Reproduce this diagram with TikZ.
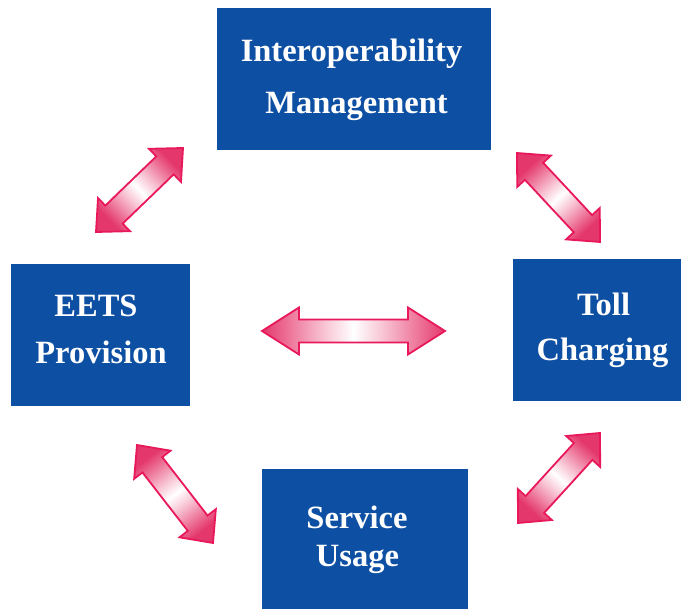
\documentclass[tikz,border=0pt]{standalone}
\usepackage{fontspec}
\setmainfont{Liberation Serif}
\usetikzlibrary{calc}

\definecolor{boxblue}{RGB}{13,79,162}
\definecolor{arrowedge}{RGB}{232,24,90}
\definecolor{arrowpink}{RGB}{228,56,108}
\definecolor{arrowmid}{RGB}{238,122,158}
\definecolor{arrowlight}{RGB}{248,196,212}

% pink at both ends, white in the middle
\pgfdeclarehorizontalshading{arrowshade}{100bp}{%
  color(0bp)=(arrowpink); color(25bp)=(arrowpink); color(33bp)=(arrowmid);
  color(42bp)=(arrowlight); color(50bp)=(white); color(58bp)=(arrowlight);
  color(67bp)=(arrowmid); color(75bp)=(arrowpink); color(100bp)=(arrowpink)}

\tikzset{
  box/.style={fill=boxblue, draw=none, inner sep=0pt},
  boxtext/.style={text=white, anchor=base, inner sep=0pt,
    font=\fontsize{32.5}{36}\selectfont\bfseries},
  arrowbody/.style={shade, shading=arrowshade, draw=arrowedge,
    line width=1.8pt, line join=miter},
}

% double-headed block arrow between two named coordinates
% #1 start, #2 end, #3 head length, #4 head half width, #5 shaft half width
\newcommand\dblblockarrow[5]{%
  \pgfmathanglebetweenpoints{\pgfpointanchor{#1}{center}}{\pgfpointanchor{#2}{center}}%
  \let\arrowang\pgfmathresult
  \path[arrowbody, shading angle=\arrowang]
    (#1)
    -- ($($(#1)!#3!(#2)$)!#4!90:(#2)$)
    -- ($($(#1)!#3!(#2)$)!#5!90:(#2)$)
    -- ($($(#2)!#3!(#1)$)!#5!-90:(#1)$)
    -- ($($(#2)!#3!(#1)$)!#4!-90:(#1)$)
    -- (#2)
    -- ($($(#2)!#3!(#1)$)!#4!90:(#1)$)
    -- ($($(#2)!#3!(#1)$)!#5!90:(#1)$)
    -- ($($(#1)!#3!(#2)$)!#5!-90:(#2)$)
    -- ($($(#1)!#3!(#2)$)!#4!-90:(#2)$)
    -- cycle;
}

\begin{document}
\begin{tikzpicture}[x=1pt, y=-1pt]
  \useasboundingbox (0,0) rectangle (681,609);

  % boxes
  \node[box, minimum width=274pt, minimum height=142pt] (interop) at (354,79) {};
  \node[box, minimum width=179pt, minimum height=142pt] (eets) at (100.5,335) {};
  \node[box, minimum width=168pt, minimum height=142pt] (toll) at (597,330) {};
  \node[box, minimum width=206pt, minimum height=140pt] (service) at (365,539) {};

  % labels
  \node[boxtext] (interopA) at (351.5,61.7) {Interoperability};
  \node[boxtext] (interopB) at (356.5,113.3) {Management};
  \node[boxtext] (eetsA) at (96,316.7) {EETS};
  \node[boxtext] (eetsB) at (101,363.3) {Provision};
  \node[boxtext] (tollA) at (603.5,315.7) {Toll};
  \node[boxtext] (tollB) at (602.5,361) {Charging};
  \node[boxtext] (serviceA) at (357,528.3) {Service};
  \node[boxtext] (serviceB) at (357.5,566.7) {Usage};

  % arrow end points
  \coordinate (ieS) at (96,232);   \coordinate (ieE) at (183,148);
  \coordinate (itS) at (517,153);  \coordinate (itE) at (600,242);
  \coordinate (esS) at (137,445);  \coordinate (esE) at (213,543);
  \coordinate (tsS) at (518,523);  \coordinate (tsE) at (600,433);
  \coordinate (etS) at (262,331);  \coordinate (etE) at (445,331);

  % arrows
  \dblblockarrow{ieS}{ieE}{25pt}{23pt}{12.5pt}
  \dblblockarrow{itS}{itE}{25pt}{23pt}{12.5pt}
  \dblblockarrow{esS}{esE}{25pt}{23pt}{12.5pt}
  \dblblockarrow{tsS}{tsE}{25pt}{23pt}{12.5pt}
  \dblblockarrow{etS}{etE}{37pt}{23.5pt}{11.5pt}
\end{tikzpicture}
\end{document}
